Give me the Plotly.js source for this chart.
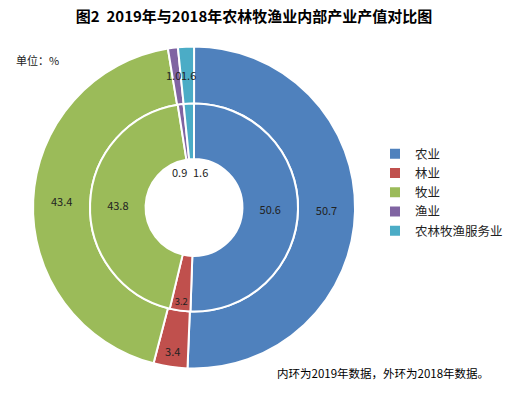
<!DOCTYPE html>
<html><head><meta charset="utf-8">
<script src="https://cdn.plot.ly/plotly-3.0.1.min.js"></script>
<style>html,body{margin:0;padding:0;background:#fff}</style>
</head><body>
<div id="chart" style="width:508px;height:396px"></div>
<script>
const categories = ["农业", "林业", "牧业", "渔业", "农林牧渔服务业"];
const values2018 = [50.7, 3.4, 43.4, 1.0, 1.6];
const values2019 = [50.6, 3.2, 43.8, 0.9, 1.6];
const colors = ["#4F81BD", "#C0504D", "#9BBB59", "#8064A2", "#4BACC6"];

const fmt = v => v.toFixed(1);
const bigPos = vals => vals.map(v => v >= 3 ? "inside" : "none");

const font = "'Noto Sans CJK SC', 'Noto Sans', sans-serif";

const outer = {
  type: "pie", labels: categories, values: values2018, sort: false,
  direction: "clockwise", rotation: 0, hole: 0.646,
  marker: {colors: colors, line: {color: "#fff", width: 2}},
  text: values2018.map(fmt), textinfo: "text", textposition: bigPos(values2018),
  insidetextorientation: "horizontal",
  textfont: {size: 11, color: "#222", family: font},
  domain: {x: [0.065, 0.699], y: [0.0694, 0.8826]},
  hoverinfo: "label+value", showlegend: true
};
const inner = {
  type: "pie", labels: categories, values: values2019, sort: false,
  direction: "clockwise", rotation: 0, hole: 0.466,
  marker: {colors: colors, line: {color: "#fff", width: 2}},
  text: values2019.map(fmt), textinfo: "text", textposition: bigPos(values2019),
  insidetextorientation: "horizontal",
  textfont: {size: 11, color: "#222", family: font},
  domain: {x: [0.1772, 0.5866], y: [0.2134, 0.7386]},
  hoverinfo: "label+value", showlegend: false
};

const lbl = (t, px, py) => ({text: t, xref: "paper", yref: "paper", x: px/508, y: 1 - py/396,
  xanchor: "center", yanchor: "middle", showarrow: false, font: {size: 11, family: font, color: "#222"}});

const annotations = [
  {text: "单位：%", xref: "paper", yref: "paper", x: 14/508, y: 1 - 60/396, xanchor: "left", yanchor: "middle", showarrow: false, font: {size: 11, family: font, color: "#222"}},
  {text: "内环为2019年数据，外环为2018年数据。", xref: "paper", yref: "paper", x: 383/508, y: 1 - 373/396, xanchor: "center", yanchor: "middle", showarrow: false, font: {size: 11.5, family: font, color: "#000"}},
  lbl(fmt(values2018[3]), 173, 75),
  lbl(fmt(values2018[4]), 188, 75),
  lbl(fmt(values2019[3]), 179, 172),
  lbl(fmt(values2019[4]), 200, 172)
];

const layout = {
  width: 508, height: 396,
  margin: {l: 0, r: 0, t: 0, b: 0, autoexpand: false},
  paper_bgcolor: "#fff",
  title: {text: "<b>图2  2019年与2018年农林牧渔业内部产业产值对比图</b>", x: 0.5, xanchor: "center", y: 1 - 17/396, yanchor: "middle", font: {size: 15, family: font, color: "#000"}},
  legend: {x: 375/508, y: 1 - 139/396, xanchor: "left", yanchor: "top", font: {size: 12.5, family: font, color: "#222"}, itemwidth: 30, bgcolor: "rgba(0,0,0,0)"},
  annotations: annotations,
  showlegend: true
};

Plotly.newPlot("chart", [outer, inner], layout, {displayModeBar: false, staticPlot: true});
</script>
</body></html>
